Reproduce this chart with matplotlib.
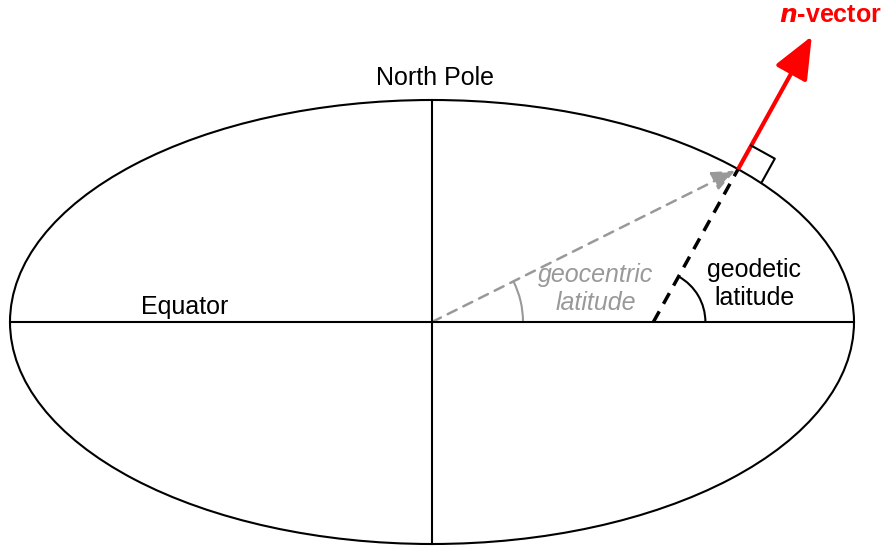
import numpy as np
import matplotlib
matplotlib.use("Agg")
from matplotlib import pyplot as plt
from matplotlib.patches import Ellipse, Arc, FancyArrowPatch

plt.rcParams['font.family'] = ['Liberation Sans', 'DejaVu Sans']

# Ellipse geometry (pixels)
center = (432, 322)
semi_axes = (422, 222)
# surface point where the n-vector starts
lat_geodetic = 61.0  # degrees
nvec_len = 152

labels = ['North Pole', 'Equator', 'geocentric\nlatitude', 'geodetic\nlatitude']

fig = plt.figure(figsize=(8.82, 5.47), dpi=100)
ax = fig.add_axes([0, 0, 1, 1])
ax.set_xlim(0, 882)
ax.set_ylim(547, 0)
ax.axis('off')

cx, cy = center
a, b = semi_axes

ax.add_patch(Ellipse(center, 2 * a, 2 * b, fill=False, color='black', lw=1.5))
ax.plot([cx - a, cx + a], [cy, cy], color='black', lw=1.5)
ax.plot([cx, cx], [cy - b, cy + b], color='black', lw=1.5)

# point on ellipse for given geodetic latitude
phi = np.radians(lat_geodetic)
t = np.arctan(b / a * np.tan(phi))
px = cx + a * np.cos(t)
py = cy - b * np.sin(t)
nx, ny = np.cos(phi), -np.sin(phi)

# geodetic line crossing equator
foot_x = px - (cy - py) / np.tan(phi)
ax.plot([foot_x, px], [cy, py], color='black', lw=2.5, ls=(0, (3.5, 2.5)))

# geocentric line
psi = np.arctan2(cy - py, px - cx)
ax.add_patch(FancyArrowPatch((cx, cy), (px - 3, py + 1.5), arrowstyle='-|>,head_length=14,head_width=6',
                             color='#999999', lw=1.8, ls=(0, (4, 3)), mutation_scale=1,
                             shrinkA=0, shrinkB=0))

# n-vector
ax.add_patch(FancyArrowPatch((px, py), (px + nx * nvec_len, py + ny * nvec_len),
                             arrowstyle='-|>,head_length=26,head_width=11', color='red', lw=3,
                             mutation_scale=1, shrinkA=0, shrinkB=0))

# right angle marker
s = 27
tx, ty = np.sin(phi), np.cos(phi)
c1 = (px + nx * s, py + ny * s)
c2 = (c1[0] + tx * s, c1[1] + ty * s)
c3 = (px + tx * s, py + ty * s)
ax.plot([c1[0], c2[0], c3[0]], [c1[1], c2[1], c3[1]], color='black', lw=1.5)

# angle arcs
ax.add_patch(Arc((foot_x, cy), 104, 104, theta1=-lat_geodetic, theta2=0, color='black', lw=1.5))
ax.add_patch(Arc((cx, cy), 182, 182, theta1=-np.degrees(psi), theta2=0, color='#999999', lw=1.5))

ax.text(435, 78, labels[0], fontsize=18, ha='center', va='center')
ax.text(185, 307, labels[1], fontsize=18, ha='center', va='center')
ax.text(596, 289, labels[2], fontsize=18, ha='center', va='center', color='#999999',
        style='italic', linespacing=1.25)
ax.text(754, 284, labels[3], fontsize=18, ha='center', va='center', linespacing=1.2)
ax.text(830, 15, r'$\mathbfit{n}$-vector', fontsize=18, ha='center', va='center', color='red',
        fontweight='bold')

fig.savefig('out.png', dpi=100)
